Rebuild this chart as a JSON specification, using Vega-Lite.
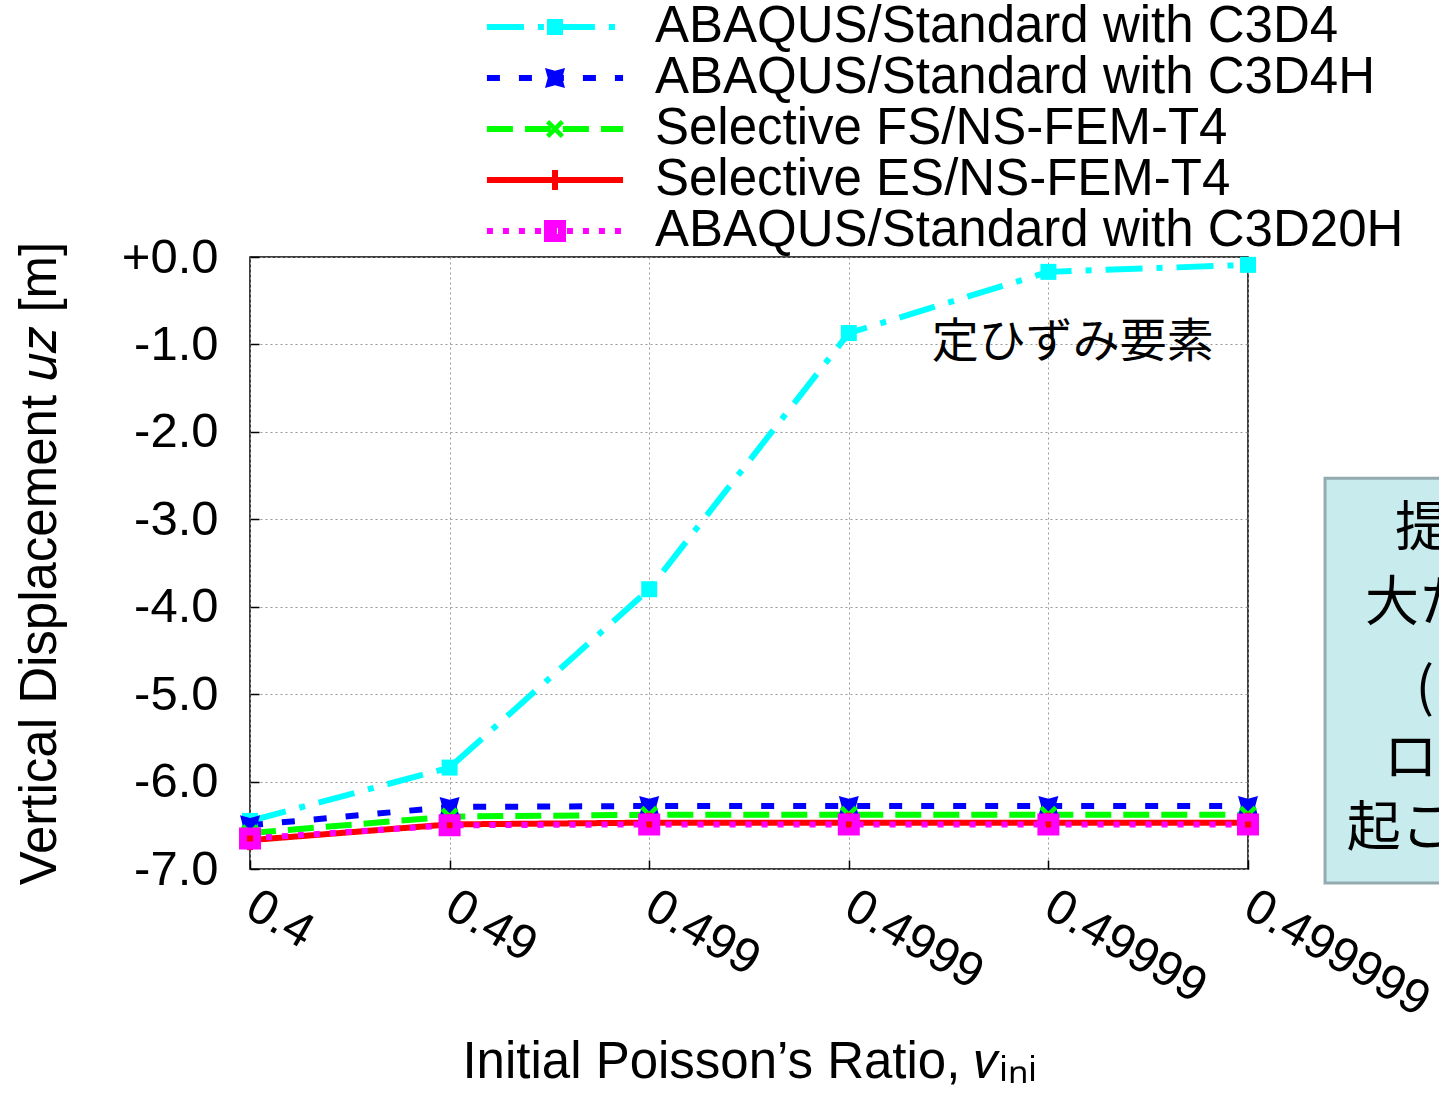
{
  "$schema": "https://vega.github.io/schema/vega-lite/v6.json",
  "width": 998,
  "height": 612,
  "autosize": {"type": "none"},
  "padding": {"left": 250, "top": 257, "right": 191, "bottom": 226},
  "background": "white",
  "config": {
    "font": "Liberation Sans",
    "view": {"stroke": "black", "strokeWidth": 1.5},
    "legend": {"disable": true},
    "axis": {
      "grid": true,
      "gridColor": "#999999",
      "gridDash": [2, 3],
      "gridWidth": 1,
      "domain": false,
      "tickColor": "black",
      "tickWidth": 1.5,
      "tickSize": -9,
      "labelFont": "Liberation Sans",
      "labelFontSize": 49,
      "labelColor": "black",
      "labelLimit": 0,
      "titleFont": "Liberation Sans",
      "titleFontSize": 51,
      "titleFontWeight": "normal",
      "titleColor": "black"
    }
  },
  "data": {
    "values": [
      {"series": "ABAQUS/Standard with C3D4", "idx": 0, "uz": -6.45},
      {"series": "ABAQUS/Standard with C3D4", "idx": 1, "uz": -5.84},
      {"series": "ABAQUS/Standard with C3D4", "idx": 2, "uz": -3.80},
      {"series": "ABAQUS/Standard with C3D4", "idx": 3, "uz": -0.87},
      {"series": "ABAQUS/Standard with C3D4", "idx": 4, "uz": -0.17},
      {"series": "ABAQUS/Standard with C3D4", "idx": 5, "uz": -0.09},
      {"series": "ABAQUS/Standard with C3D4H", "idx": 0, "uz": -6.50},
      {"series": "ABAQUS/Standard with C3D4H", "idx": 1, "uz": -6.29},
      {"series": "ABAQUS/Standard with C3D4H", "idx": 2, "uz": -6.28},
      {"series": "ABAQUS/Standard with C3D4H", "idx": 3, "uz": -6.28},
      {"series": "ABAQUS/Standard with C3D4H", "idx": 4, "uz": -6.28},
      {"series": "ABAQUS/Standard with C3D4H", "idx": 5, "uz": -6.28},
      {"series": "Selective FS/NS-FEM-T4", "idx": 0, "uz": -6.59},
      {"series": "Selective FS/NS-FEM-T4", "idx": 1, "uz": -6.40},
      {"series": "Selective FS/NS-FEM-T4", "idx": 2, "uz": -6.38},
      {"series": "Selective FS/NS-FEM-T4", "idx": 3, "uz": -6.38},
      {"series": "Selective FS/NS-FEM-T4", "idx": 4, "uz": -6.38},
      {"series": "Selective FS/NS-FEM-T4", "idx": 5, "uz": -6.38},
      {"series": "Selective ES/NS-FEM-T4", "idx": 0, "uz": -6.67},
      {"series": "Selective ES/NS-FEM-T4", "idx": 1, "uz": -6.49},
      {"series": "Selective ES/NS-FEM-T4", "idx": 2, "uz": -6.47},
      {"series": "Selective ES/NS-FEM-T4", "idx": 3, "uz": -6.47},
      {"series": "Selective ES/NS-FEM-T4", "idx": 4, "uz": -6.47},
      {"series": "Selective ES/NS-FEM-T4", "idx": 5, "uz": -6.47},
      {"series": "ABAQUS/Standard with C3D20H", "idx": 0, "uz": -6.65},
      {"series": "ABAQUS/Standard with C3D20H", "idx": 1, "uz": -6.50},
      {"series": "ABAQUS/Standard with C3D20H", "idx": 2, "uz": -6.49},
      {"series": "ABAQUS/Standard with C3D20H", "idx": 3, "uz": -6.49},
      {"series": "ABAQUS/Standard with C3D20H", "idx": 4, "uz": -6.49},
      {"series": "ABAQUS/Standard with C3D20H", "idx": 5, "uz": -6.49}
    ]
  },
  "layer": [
    {
      "data": {"values": [{}]},
      "mark": {"type": "rect", "fill": "#c8ecee", "stroke": "#93abb0", "strokeWidth": 3},
      "encoding": {
        "x": {"datum": 5.386, "type": "quantitative", "scale": {"domain": [0, 5], "nice": false, "zero": false}},
        "x2": {"datum": 6.6},
        "y": {"datum": -2.53, "type": "quantitative", "scale": {"domain": [-7, 0], "nice": false, "zero": false}},
        "y2": {"datum": -7.16}
      }
    },
    {
      "mark": {"type": "line", "strokeWidth": 6},
      "encoding": {
        "x": {
          "field": "idx", "type": "quantitative",
          "scale": {"domain": [0, 5], "nice": false, "zero": false},
          "axis": {
            "values": [0, 1, 2, 3, 4, 5],
            "labelExpr": "['0.4','0.49','0.499','0.4999','0.49999','0.499999'][datum.value]",
            "labelAngle": 30,
            "labelAlign": "left",
            "labelBaseline": "top",
            "labelPadding": 21,
            "labelOffset": 12,
            "title": "Initial Poisson’s Ratio, 𝜈ᵢₙᵢ",
            "titlePadding": 12
          }
        },
        "y": {
          "field": "uz", "type": "quantitative",
          "scale": {"domain": [-7, 0], "nice": false, "zero": false},
          "axis": {
            "values": [-7, -6, -5, -4, -3, -2, -1, 0],
            "labelExpr": "datum.value >= 0 ? '+0.0' : '-' + format(-datum.value, '.1f')",
            "labelPadding": 41,
            "title": "Vertical Displacement 𝑢𝑧 [m]",
            "titlePadding": 55
          }
        },
        "color": {
          "field": "series", "type": "nominal",
          "scale": {
            "domain": ["ABAQUS/Standard with C3D4", "ABAQUS/Standard with C3D4H", "Selective FS/NS-FEM-T4", "Selective ES/NS-FEM-T4", "ABAQUS/Standard with C3D20H"],
            "range": ["#00ffff", "#0000ff", "#00ff00", "#ff0000", "#ff00ff"]
          }
        },
        "strokeDash": {
          "field": "series", "type": "nominal",
          "scale": {
            "domain": ["ABAQUS/Standard with C3D4", "ABAQUS/Standard with C3D4H", "Selective FS/NS-FEM-T4", "Selective ES/NS-FEM-T4", "ABAQUS/Standard with C3D20H"],
            "range": [[37, 14, 6, 14], [13, 19], [26, 12], [1, 0], [6, 10]]
          }
        }
      }
    },
    {
      "mark": {"type": "point", "filled": true, "opacity": 1, "strokeWidth": 0, "size": 100},
      "encoding": {
        "x": {"field": "idx", "type": "quantitative", "scale": {"domain": [0, 5], "nice": false, "zero": false}},
        "y": {"field": "uz", "type": "quantitative", "scale": {"domain": [-7, 0], "nice": false, "zero": false}},
        "color": {"field": "series", "type": "nominal"},
        "shape": {
          "field": "series", "type": "nominal",
          "scale": {
            "domain": ["ABAQUS/Standard with C3D4", "ABAQUS/Standard with C3D4H", "Selective FS/NS-FEM-T4", "Selective ES/NS-FEM-T4", "ABAQUS/Standard with C3D20H"],
            "range": [
              "M-1.6,-1.6H1.6V1.6H-1.6Z",
              "M-2,-2L0,-1.45L2,-2L1.45,0L2,2L0,1.45L-2,2L-1.45,0Z",
              "M-1.8,-1.16L-1.16,-1.8L0,-0.64L1.16,-1.8L1.8,-1.16L0.64,0L1.8,1.16L1.16,1.8L0,0.64L-1.16,1.8L-1.8,1.16L-0.64,0Z",
              "M-0.6,-2H0.6V2H-0.6Z",
              "M-2.2,-2.2H2.2V2.2H-2.2ZM-0.6,-0.6V0.6H0.6V-0.6Z"
            ]
          }
        }
      }
    },
    {
      "data": {"values": [{}]},
      "mark": {"type": "text", "text": "定ひずみ要素", "font": "Noto Sans CJK JP", "fontSize": 47, "align": "left", "baseline": "middle", "color": "black"},
      "encoding": {
        "x": {"datum": 3.415, "type": "quantitative"},
        "y": {"datum": -0.985, "type": "quantitative"}
      }
    },
    {
      "data": {"values": [{}]},
      "encoding": {"y": {"datum": 2.631, "type": "quantitative"}},
      "layer": [
        {"mark": {"type": "rule", "strokeWidth": 6}, "encoding": {"x": {"datum": 1.187, "type": "quantitative"}, "x2": {"datum": 1.869}, "color": {"datum": "ABAQUS/Standard with C3D4"}, "strokeDash": {"datum": "ABAQUS/Standard with C3D4"}}},
        {"mark": {"type": "point", "filled": true, "opacity": 1, "strokeWidth": 0, "size": 100}, "encoding": {"x": {"datum": 1.528, "type": "quantitative"}, "color": {"datum": "ABAQUS/Standard with C3D4"}, "shape": {"datum": "ABAQUS/Standard with C3D4"}}},
        {"mark": {"type": "text", "text": "ABAQUS/Standard with C3D4", "fontSize": 51, "align": "left", "baseline": "middle", "color": "black"}, "encoding": {"x": {"datum": 2.029, "type": "quantitative"}}}
      ]
    },
    {
      "data": {"values": [{}]},
      "encoding": {"y": {"datum": 2.047, "type": "quantitative"}},
      "layer": [
        {"mark": {"type": "rule", "strokeWidth": 6}, "encoding": {"x": {"datum": 1.187, "type": "quantitative"}, "x2": {"datum": 1.869}, "color": {"datum": "ABAQUS/Standard with C3D4H"}, "strokeDash": {"datum": "ABAQUS/Standard with C3D4H"}}},
        {"mark": {"type": "point", "filled": true, "opacity": 1, "strokeWidth": 0, "size": 100}, "encoding": {"x": {"datum": 1.528, "type": "quantitative"}, "color": {"datum": "ABAQUS/Standard with C3D4H"}, "shape": {"datum": "ABAQUS/Standard with C3D4H"}}},
        {"mark": {"type": "text", "text": "ABAQUS/Standard with C3D4H", "fontSize": 51, "align": "left", "baseline": "middle", "color": "black"}, "encoding": {"x": {"datum": 2.029, "type": "quantitative"}}}
      ]
    },
    {
      "data": {"values": [{}]},
      "encoding": {"y": {"datum": 1.464, "type": "quantitative"}},
      "layer": [
        {"mark": {"type": "rule", "strokeWidth": 6}, "encoding": {"x": {"datum": 1.187, "type": "quantitative"}, "x2": {"datum": 1.869}, "color": {"datum": "Selective FS/NS-FEM-T4"}, "strokeDash": {"datum": "Selective FS/NS-FEM-T4"}}},
        {"mark": {"type": "point", "filled": true, "opacity": 1, "strokeWidth": 0, "size": 100}, "encoding": {"x": {"datum": 1.528, "type": "quantitative"}, "color": {"datum": "Selective FS/NS-FEM-T4"}, "shape": {"datum": "Selective FS/NS-FEM-T4"}}},
        {"mark": {"type": "text", "text": "Selective FS/NS-FEM-T4", "fontSize": 51, "align": "left", "baseline": "middle", "color": "black"}, "encoding": {"x": {"datum": 2.029, "type": "quantitative"}}}
      ]
    },
    {
      "data": {"values": [{}]},
      "encoding": {"y": {"datum": 0.881, "type": "quantitative"}},
      "layer": [
        {"mark": {"type": "rule", "strokeWidth": 6}, "encoding": {"x": {"datum": 1.187, "type": "quantitative"}, "x2": {"datum": 1.869}, "color": {"datum": "Selective ES/NS-FEM-T4"}, "strokeDash": {"datum": "Selective ES/NS-FEM-T4"}}},
        {"mark": {"type": "point", "filled": true, "opacity": 1, "strokeWidth": 0, "size": 100}, "encoding": {"x": {"datum": 1.528, "type": "quantitative"}, "color": {"datum": "Selective ES/NS-FEM-T4"}, "shape": {"datum": "Selective ES/NS-FEM-T4"}}},
        {"mark": {"type": "text", "text": "Selective ES/NS-FEM-T4", "fontSize": 51, "align": "left", "baseline": "middle", "color": "black"}, "encoding": {"x": {"datum": 2.029, "type": "quantitative"}}}
      ]
    },
    {
      "data": {"values": [{}]},
      "encoding": {"y": {"datum": 0.297, "type": "quantitative"}},
      "layer": [
        {"mark": {"type": "rule", "strokeWidth": 6}, "encoding": {"x": {"datum": 1.187, "type": "quantitative"}, "x2": {"datum": 1.869}, "color": {"datum": "ABAQUS/Standard with C3D20H"}, "strokeDash": {"datum": "ABAQUS/Standard with C3D20H"}}},
        {"mark": {"type": "point", "filled": true, "opacity": 1, "strokeWidth": 0, "size": 100}, "encoding": {"x": {"datum": 1.528, "type": "quantitative"}, "color": {"datum": "ABAQUS/Standard with C3D20H"}, "shape": {"datum": "ABAQUS/Standard with C3D20H"}}},
        {"mark": {"type": "text", "text": "ABAQUS/Standard with C3D20H", "fontSize": 51, "align": "left", "baseline": "middle", "color": "black"}, "encoding": {"x": {"datum": 2.029, "type": "quantitative"}}}
      ]
    },
    {
      "data": {"values": [{}]},
      "mark": {"type": "text", "text": "提案", "font": "Noto Sans CJK JP", "fontSize": 54, "align": "left", "baseline": "middle", "color": "black"},
      "encoding": {"x": {"datum": 5.737, "type": "quantitative"}, "y": {"datum": -3.12, "type": "quantitative"}}
    },
    {
      "data": {"values": [{}]},
      "mark": {"type": "text", "text": "大たわみ", "font": "Noto Sans CJK JP", "fontSize": 54, "align": "left", "baseline": "middle", "color": "black"},
      "encoding": {"x": {"datum": 5.586, "type": "quantitative"}, "y": {"datum": -3.98, "type": "quantitative"}}
    },
    {
      "data": {"values": [{}]},
      "mark": {"type": "text", "text": "(", "font": "Noto Sans CJK JP", "fontSize": 54, "align": "left", "baseline": "middle", "color": "black"},
      "encoding": {"x": {"datum": 5.84, "type": "quantitative"}, "y": {"datum": -4.95, "type": "quantitative"}}
    },
    {
      "data": {"values": [{}]},
      "mark": {"type": "text", "text": "ロッキング", "font": "Noto Sans CJK JP", "fontSize": 54, "align": "left", "baseline": "middle", "color": "black"},
      "encoding": {"x": {"datum": 5.68, "type": "quantitative"}, "y": {"datum": -5.75, "type": "quantitative"}}
    },
    {
      "data": {"values": [{}]},
      "mark": {"type": "text", "text": "起こさない", "font": "Noto Sans CJK JP", "fontSize": 54, "align": "left", "baseline": "middle", "color": "black"},
      "encoding": {"x": {"datum": 5.495, "type": "quantitative"}, "y": {"datum": -6.55, "type": "quantitative"}}
    }
  ]
}
